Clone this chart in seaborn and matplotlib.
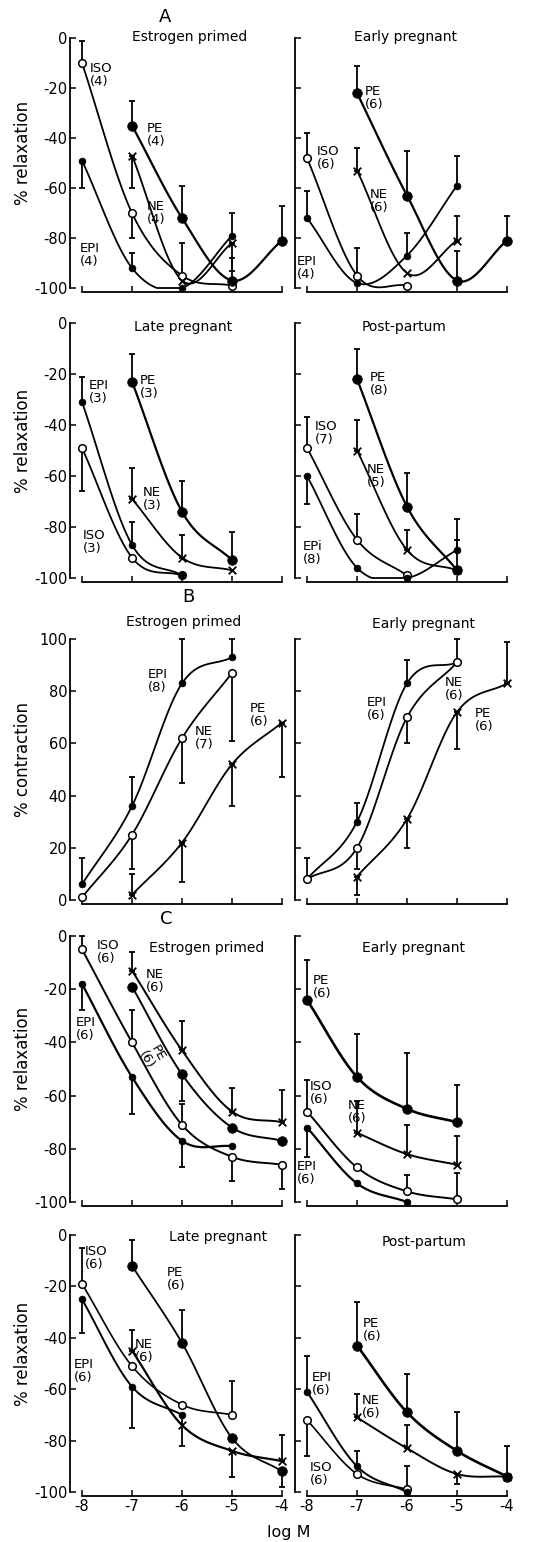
import numpy as np
import matplotlib
matplotlib.use("Agg")
from matplotlib import pyplot as plt
import seaborn as sns

nan = np.nan
LOGM = [-8, -7, -6, -5, -4]

# ---- A: relaxation, estrogen primed
A_EP_ISO = [-10, -70, -95, -99, nan];  A_EP_ISO_ERR = [-1, -80, -82, nan, nan]
A_EP_EPI = [-49, -92, -100, -79, nan]; A_EP_EPI_ERR = [-60, -86, nan, -70, nan]
A_EP_NE = [nan, -47, -97, -82, nan];   A_EP_NE_ERR = [nan, -60, nan, -93, nan]
A_EP_PE = [nan, -35, -72, -97, -81];   A_EP_PE_ERR = [nan, -25, -59, -88, -67]
# ---- A: early pregnant
A_EPR_ISO = [-48, -95, -99, nan, nan]; A_EPR_ISO_ERR = [-38, -84, nan, nan, nan]
A_EPR_EPI = [-72, -98, -87, -59, nan]; A_EPR_EPI_ERR = [-61, nan, -78, -47, nan]
A_EPR_NE = [nan, -53, -94, -81, nan];  A_EPR_NE_ERR = [nan, -44, nan, -71, nan]
A_EPR_PE = [nan, -22, -63, -97, -81];  A_EPR_PE_ERR = [nan, -11, -45, -85, -71]
# ---- A: late pregnant
A_LP_ISO = [-49, -92, -99, nan, nan];  A_LP_ISO_ERR = [-66, nan, nan, nan, nan]
A_LP_EPI = [-31, -87, -99, nan, nan];  A_LP_EPI_ERR = [-21, -78, nan, nan, nan]
A_LP_NE = [nan, -69, -92, -97, nan];   A_LP_NE_ERR = [nan, -57, -83, nan, nan]
A_LP_PE = [nan, -23, -74, -93, nan];   A_LP_PE_ERR = [nan, -12, -62, -82, nan]
# ---- A: post-partum
A_PP_ISO = [-49, -85, -99, nan, nan];  A_PP_ISO_ERR = [-37, -75, nan, nan, nan]
A_PP_EPI = [-60, -96, -100, -89, nan]; A_PP_EPI_ERR = [-71, nan, nan, -77, nan]
A_PP_NE = [nan, -50, -89, -97, nan];   A_PP_NE_ERR = [nan, -38, -81, nan, nan]
A_PP_PE = [nan, -22, -72, -97, nan];   A_PP_PE_ERR = [nan, -10, -59, -85, nan]

# ---- B: contraction, estrogen primed
B_EP_EPI = [6, 36, 83, 93, nan];  B_EP_EPI_ERR = [16, 47, 100, 100, nan]
B_EP_NE = [1, 25, 62, 87, nan];   B_EP_NE_ERR = [nan, 12, 45, 61, nan]
B_EP_PE = [nan, 2, 22, 52, 68];   B_EP_PE_ERR = [nan, 10, 7, 36, 47]
# ---- B: early pregnant
B_EPR_EPI = [8, 30, 83, 91, nan]; B_EPR_EPI_ERR = [16, 37, 92, nan, nan]
B_EPR_NE = [8, 20, 70, 91, nan];  B_EPR_NE_ERR = [nan, 12, 60, 100, nan]
B_EPR_PE = [nan, 9, 31, 72, 83];  B_EPR_PE_ERR = [nan, 2, 20, 58, 99]

# ---- C: relaxation, estrogen primed
C_EP_ISO = [-5, -40, -71, -83, -86];   C_EP_ISO_ERR = [0, -28, -63, -92, -95]
C_EP_EPI = [-18, -53, -77, -79, nan];  C_EP_EPI_ERR = [-28, -67, -87, nan, nan]
C_EP_NE = [nan, -13, -43, -66, -70];   C_EP_NE_ERR = [nan, -6, -32, -57, -58]
C_EP_PE = [nan, -19, -52, -72, -77];   C_EP_PE_ERR = [nan, nan, -62, nan, nan]
# ---- C: early pregnant
C_EPR_ISO = [-66, -87, -96, -99, nan]; C_EPR_ISO_ERR = [-54, nan, -90, -89, nan]
C_EPR_EPI = [-72, -93, -100, nan, nan]; C_EPR_EPI_ERR = [-83, nan, nan, nan, nan]
C_EPR_NE = [nan, -74, -82, -86, nan];  C_EPR_NE_ERR = [nan, -62, -71, -75, nan]
C_EPR_PE = [-24, -53, -65, -70, nan];  C_EPR_PE_ERR = [-9, -37, -44, -56, nan]
# ---- C: late pregnant
C_LP_ISO = [-19, -51, -66, -70, nan];  C_LP_ISO_ERR = [-5, nan, nan, -57, nan]
C_LP_EPI = [-25, -59, -70, nan, nan];  C_LP_EPI_ERR = [-38, -75, -82, nan, nan]
C_LP_NE = [nan, -45, -74, -84, -88];   C_LP_NE_ERR = [nan, -37, nan, -94, -78]
C_LP_PE = [nan, -12, -42, -79, -92];   C_LP_PE_ERR = [nan, -2, -29, nan, -98]
# ---- C: post-partum
C_PP_ISO = [-72, -93, -99, nan, nan];  C_PP_ISO_ERR = [-86, nan, nan, nan, nan]
C_PP_EPI = [-61, -90, -100, nan, nan]; C_PP_EPI_ERR = [-47, -84, -90, nan, nan]
C_PP_NE = [nan, -71, -83, -93, -94];   C_PP_NE_ERR = [nan, -62, -74, -97, nan]
C_PP_PE = [nan, -43, -69, -84, -94];   C_PP_PE_ERR = [nan, -26, -54, -69, -82]


W, H = 551, 1542
sns.set_style("ticks")
plt.rcParams['font.family'] = ['DejaVu Sans']
plt.rcParams['axes.unicode_minus'] = False
plt.rcParams['axes.linewidth'] = 1.3
for k in ['text.color', 'axes.labelcolor', 'xtick.color', 'ytick.color', 'axes.edgecolor']:
	plt.rcParams[k] = 'black'

fig = plt.figure(figsize=(W / 100, H / 100), dpi=100)

# marker styles
OPEN = dict(marker='o', s=30, color='white', edgecolor='k', linewidth=1.1)
DOT = dict(marker='o', s=24, color='k', edgecolor='k', linewidth=0.5)
BIG = dict(marker='o', s=48, color='k', edgecolor='k', linewidth=0.5)
CROSS = dict(marker='x', s=30, color='k', linewidth=1.3)


def catmull(x, y, n=24):
	pts = np.column_stack([x, y])
	if len(pts) < 3:
		return pts[:, 0], pts[:, 1]
	p = np.vstack([2 * pts[0] - pts[1], pts, 2 * pts[-1] - pts[-2]])
	t = np.linspace(0, 1, n, endpoint=False)[:, None]
	out = []
	for i in range(1, len(p) - 2):
		p0, p1, p2, p3 = p[i - 1], p[i], p[i + 1], p[i + 2]
		out.append(0.5 * (2 * p1 + (-p0 + p2) * t + (2 * p0 - 5 * p1 + 4 * p2 - p3) * t ** 2
			+ (-p0 + 3 * p1 - 3 * p2 + p3) * t ** 3))
	out.append(pts[-1:])
	out = np.vstack(out)
	return out[:, 0], out[:, 1]


def draw_series(ax, vals, tips, mk, lw, lo, hi):
	x = np.array(LOGM, float)
	y = np.array(vals, float)
	t = np.array(tips, float)
	m = ~np.isnan(y)
	cx, cy = catmull(x[m], y[m])
	sns.lineplot(x=cx, y=np.clip(cy, lo, hi), ax=ax, color='k', linewidth=lw, sort=False, estimator=None)
	e = m & ~np.isnan(t)
	if e.any():
		low = np.where(t[e] < y[e], y[e] - t[e], 0)
		up = np.where(t[e] > y[e], t[e] - y[e], 0)
		ax.errorbar(x[e], y[e], yerr=[low, up], fmt='none', ecolor='k', elinewidth=1.3,
			capsize=2.5, capthick=1.3)
	sns.scatterplot(x=x[m], y=y[m], ax=ax, legend=False, zorder=5, **mk)


def make_axes(x0, x1, yt, yb, vtop, vbot):
	top, bot = yt - 6, yb + 4
	ax = fig.add_axes([x0 / W, 1 - bot / H, (x1 - x0) / W, (bot - top) / H])
	dpp = (vtop - vbot) / (yb - yt)
	ax.set_ylim(vbot - 4 * dpp, vtop + 6 * dpp)
	ax.set_xlim(-8.24, -3.9)
	return ax


ROWS = [(38, 288), (323, 578), (639, 900), (936, 1202), (1235, 1492)]
COLS = [(70, 287), (295, 512)]

# (row, col, title, title px, series list, labels)
PANELS = [
	(0, 0, "Estrogen primed", (190, 37),
		[(A_EP_ISO, A_EP_ISO_ERR, OPEN, 1.3), (A_EP_EPI, A_EP_EPI_ERR, DOT, 1.3),
		 (A_EP_NE, A_EP_NE_ERR, CROSS, 1.3), (A_EP_PE, A_EP_PE_ERR, BIG, 1.6)],
		[("ISO\n(4)", -7.84, -15), ("PE\n(4)", -6.7, -39), ("NE\n(4)", -6.7, -70), ("EPI\n(4)", -8.04, -87)]),
	(0, 1, "Early pregnant", (405, 37),
		[(A_EPR_ISO, A_EPR_ISO_ERR, OPEN, 1.3), (A_EPR_EPI, A_EPR_EPI_ERR, DOT, 1.3),
		 (A_EPR_NE, A_EPR_NE_ERR, CROSS, 1.3), (A_EPR_PE, A_EPR_PE_ERR, BIG, 1.6)],
		[("PE\n(6)", -6.84, -24), ("ISO\n(6)", -7.8, -48), ("NE\n(6)", -6.74, -65), ("EPI\n(4)", -8.2, -92)]),
	(1, 0, "Late pregnant", (183, 327),
		[(A_LP_ISO, A_LP_ISO_ERR, OPEN, 1.3), (A_LP_EPI, A_LP_EPI_ERR, DOT, 1.3),
		 (A_LP_NE, A_LP_NE_ERR, CROSS, 1.3), (A_LP_PE, A_LP_PE_ERR, BIG, 1.6)],
		[("EPI\n(3)", -7.86, -27), ("PE\n(3)", -6.84, -25), ("NE\n(3)", -6.78, -69), ("ISO\n(3)", -7.98, -86)]),
	(1, 1, "Post-partum", (404, 327),
		[(A_PP_ISO, A_PP_ISO_ERR, OPEN, 1.3), (A_PP_EPI, A_PP_EPI_ERR, DOT, 1.3),
		 (A_PP_NE, A_PP_NE_ERR, CROSS, 1.3), (A_PP_PE, A_PP_PE_ERR, BIG, 1.6)],
		[("PE\n(8)", -6.74, -24), ("ISO\n(7)", -7.84, -43), ("NE\n(5)", -6.8, -60), ("EPi\n(8)", -8.08, -90)]),
	(2, 0, "Estrogen primed", (184, 622),
		[(B_EP_EPI, B_EP_EPI_ERR, DOT, 1.3), (B_EP_NE, B_EP_NE_ERR, OPEN, 1.3),
		 (B_EP_PE, B_EP_PE_ERR, CROSS, 1.3)],
		[("EPI\n(8)", -6.68, 84), ("NE\n(7)", -5.74, 62), ("PE\n(6)", -4.64, 71)]),
	(2, 1, "Early pregnant", (423, 624),
		[(B_EPR_EPI, B_EPR_EPI_ERR, DOT, 1.3), (B_EPR_NE, B_EPR_NE_ERR, OPEN, 1.3),
		 (B_EPR_PE, B_EPR_PE_ERR, CROSS, 1.3)],
		[("EPI\n(6)", -6.8, 73), ("NE\n(6)", -5.24, 81), ("PE\n(6)", -4.64, 69)]),
	(3, 0, "Estrogen primed", (207, 948),
		[(C_EP_ISO, C_EP_ISO_ERR, OPEN, 1.4), (C_EP_EPI, C_EP_EPI_ERR, DOT, 1.6),
		 (C_EP_NE, C_EP_NE_ERR, CROSS, 1.4), (C_EP_PE, C_EP_PE_ERR, BIG, 1.4)],
		[("ISO\n(6)", -7.7, -6), ("NE\n(6)", -6.72, -17), ("EPI\n(6)", -8.12, -35)]),
	(3, 1, "Early pregnant", (413, 948),
		[(C_EPR_ISO, C_EPR_ISO_ERR, OPEN, 1.4), (C_EPR_EPI, C_EPR_EPI_ERR, DOT, 1.6),
		 (C_EPR_NE, C_EPR_NE_ERR, CROSS, 1.4), (C_EPR_PE, C_EPR_PE_ERR, BIG, 1.9)],
		[("PE\n(6)", -7.88, -19), ("ISO\n(6)", -7.94, -59), ("NE\n(6)", -7.18, -66), ("EPI\n(6)", -8.2, -89)]),
	(4, 0, "Late pregnant", (218, 1237),
		[(C_LP_ISO, C_LP_ISO_ERR, OPEN, 1.2), (C_LP_EPI, C_LP_EPI_ERR, DOT, 1.4),
		 (C_LP_NE, C_LP_NE_ERR, CROSS, 1.6), (C_LP_PE, C_LP_PE_ERR, BIG, 1.3)],
		[("ISO\n(6)", -7.94, -9), ("PE\n(6)", -6.3, -17), ("NE\n(6)", -6.94, -45), ("EPI\n(6)", -8.16, -53)]),
	(4, 1, "Post-partum", (424, 1242),
		[(C_PP_ISO, C_PP_ISO_ERR, OPEN, 1.2), (C_PP_EPI, C_PP_EPI_ERR, DOT, 1.4),
		 (C_PP_NE, C_PP_NE_ERR, CROSS, 1.4), (C_PP_PE, C_PP_PE_ERR, BIG, 1.9)],
		[("PE\n(6)", -6.88, -37), ("EPI\n(6)", -7.9, -58), ("NE\n(6)", -6.9, -67), ("ISO\n(6)", -7.94, -93)]),
]

for row, col, title, tpos, series, labels in PANELS:
	contraction = row == 2
	vtop, vbot = (100, 0) if contraction else (0, -100)
	ax = make_axes(COLS[col][0], COLS[col][1], ROWS[row][0], ROWS[row][1], vtop, vbot)
	for vals, tips, mk, lw in series:
		draw_series(ax, vals, tips, mk, lw, vbot, vtop)
	for txt, lx, ly in labels:
		ax.text(lx, ly, txt, fontsize=9.5, ha='left', va='center', linespacing=1.0)
	sns.despine(ax=ax)
	ax.spines['bottom'].set_bounds(-8, -4)
	ax.spines['left'].set_bounds(vbot, vtop)
	ax.set_xticks(LOGM)
	ax.set_yticks(np.arange(vbot, vtop + 1, 20))
	ax.tick_params(direction='in', length=4, width=1.1, labelsize=10.5, pad=2)
	ax.tick_params(labelleft=(col == 0), labelbottom=(row == 4))
	ax.set_xlabel("")
	ax.set_ylabel("")
	fig.text(tpos[0] / W, 1 - tpos[1] / H, title, fontsize=10, ha='center', va='center')
	if col == 0:
		fig.text(23 / W, 1 - (ROWS[row][0] + ROWS[row][1] - 20) / 2 / H,
			"% contraction" if contraction else "% relaxation",
			rotation=90, fontsize=12, ha='center', va='center')

# rotated PE label in C / estrogen primed
fig.text(152 / W, 1 - 1057 / H, "PE\n(6)", fontsize=9.5, rotation=-60, ha='center', va='center', linespacing=1.0)

for letter, lx, ly in [("A", 165, 17), ("B", 188, 597), ("C", 166, 919)]:
	fig.text(lx / W, 1 - ly / H, letter, fontsize=13, ha='center', va='center')
fig.text(289 / W, 1 - 1533 / H, "log M", fontsize=11.5, ha='center', va='center')

fig.savefig("out.png", dpi=100)
